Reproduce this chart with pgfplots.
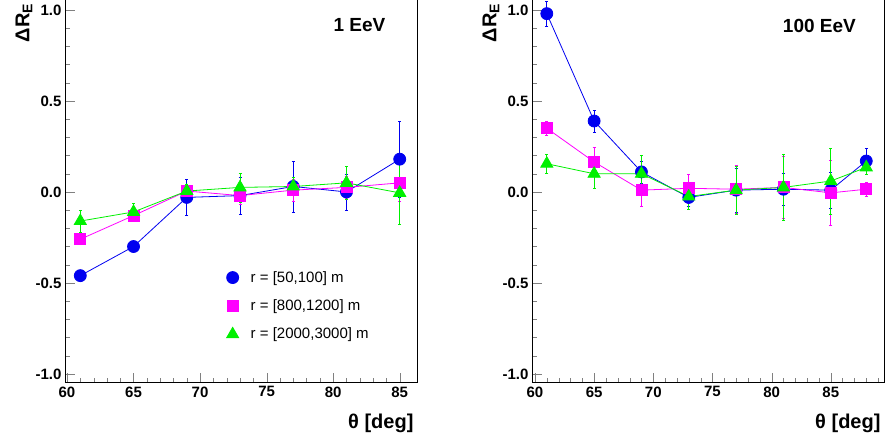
\documentclass[border=0pt]{standalone}
\usepackage{pgfplots}
\pgfplotsset{compat=1.18}
\usepackage{fontspec}
\setmainfont{Liberation Sans}
\definecolor{rblue}{RGB}{0,0,240}
\definecolor{rmag}{RGB}{255,0,255}
\definecolor{rgreen}{RGB}{0,240,0}
\pgfplotsset{
 rootax/.style={scale only axis, height=383pt, ymin=-1.05, ymax=1.055,
  anchor=south west, axis line style={line width=1pt}, tick align=inside,
  xtick pos=bottom, ytick pos=left, major tick length=10pt, minor tick length=5pt,
  xtick distance=5,
  ytick={-1,-0.5,0,0.5,1}, minor ytick={-0.9,-0.8,...,0.95}, minor x tick num=4,
  yticklabel style={/pgf/number format/.cd,fixed,fixed zerofill,precision=1},
  tick label style={font=\fontsize{15}{15}\selectfont\bfseries},
  /pgf/number format/assume math mode=true,
 },
 sb/.style={rblue, line width=0.8pt, mark=*, mark size=6pt},
 sm/.style={rmag, line width=0.8pt, mark=square*, mark size=5.5pt},
 sg/.style={rgreen, line width=0.8pt, mark=triangle*, mark size=7pt},
 eb/.style={error bars/.cd, y dir=both, y explicit, error bar style={line width=0.8pt,draw=#1}, error mark options={rotate=90,mark size=1.5pt,draw=#1}},
}
\begin{document}
\begin{tikzpicture}
\useasboundingbox (0,0) rectangle (886pt,435pt);
\begin{axis}[rootax, at={(65pt,52pt)}, width=352pt, xmin=59.85, xmax=86.3,
 legend style={draw=none, fill=none, at={(0.45,0.1)}, anchor=south west, font=\fontsize{15}{15}\selectfont, row sep=12pt, legend cell align=left, /tikz/every odd column/.append style={column sep=10pt}}]
\addlegendimage{only marks, sb}\addlegendentry{r = [50,100] m}
\addlegendimage{only marks, sm}\addlegendentry{r = [800,1200] m}
\addlegendimage{only marks, sg}\addlegendentry{r = [2000,3000] m}
\addplot[sb, eb=rblue] coordinates {(61,-0.46)+-(0,0.01) (65,-0.30)+-(0,0.02) (69,-0.03)+-(0,0.10) (73,-0.02)+-(0,0.10) (77,0.03)+-(0,0.14) (81,0.0)+-(0,0.10) (85,0.18)+-(0,0.21)};
\addplot[sm, eb=rmag] coordinates {(61,-0.26)+-(0,0.02) (65,-0.13)+-(0,0.02) (69,0.005)+-(0,0.04) (73,-0.02)+-(0,0.05) (77,0.01)+-(0,0.06) (81,0.025)+-(0,0.06) (85,0.05)+-(0,0.10)};
\addplot[sg, eb=rgreen] coordinates {(61,-0.16)+-(0,0.06) (65,-0.11)+-(0,0.05) (69,0.005)+-(0,0.04) (73,0.025)+-(0,0.08) (77,0.03)+-(0,0.05) (81,0.05)+-(0,0.09) (85,-0.005)+-(0,0.17)};
\node[anchor=north east, font=\fontsize{19}{19}\selectfont\bfseries] at (rel axis cs:0.92,0.96) {1 EeV};
\end{axis}
\begin{axis}[rootax, at={(532pt,52pt)}, width=352pt, xmin=59.75, xmax=89.5]
\addplot[sb, eb=rblue] coordinates {(61,0.98)+-(0,0.07) (65,0.39)+-(0,0.06) (69,0.11)+-(0,0.06) (73,-0.03)+-(0,0.05) (77,0.01)+-(0,0.12) (81,0.015)+-(0,0.09) (85,0.01)+-(0,0.10) (88,0.17)+-(0,0.07)};
\addplot[sm, eb=rmag] coordinates {(61,0.35)+-(0,0.04) (65,0.165)+-(0,0.08) (69,0.01)+-(0,0.09) (73,0.02)+-(0,0.08) (77,0.015)+-(0,0.13) (81,0.025)+-(0,0.17) (85,-0.005)+-(0,0.18) (88,0.015)+-(0,0.04)};
\addplot[sg, eb=rgreen] coordinates {(61,0.155)+-(0,0.05) (65,0.10)+-(0,0.08) (69,0.10)+-(0,0.10) (73,-0.025)+-(0,0.07) (77,0.01)+-(0,0.13) (81,0.025)+-(0,0.18) (85,0.06)+-(0,0.18) (88,0.135)+-(0,0.04)};
\node[anchor=north east, font=\fontsize{19}{19}\selectfont\bfseries] at (rel axis cs:0.93,0.96) {100 EeV};
\end{axis}
\node[rotate=90, anchor=east, font=\fontsize{20}{20}\selectfont\bfseries] at (24pt,435pt) {ΔR\textsubscript{E}};
\node[rotate=90, anchor=east, font=\fontsize{20}{20}\selectfont\bfseries] at (491pt,435pt) {ΔR\textsubscript{E}};
\node[anchor=base east, font=\fontsize{20}{20}\selectfont\bfseries] at (417pt,6pt) {θ [deg]};
\node[anchor=base east, font=\fontsize{20}{20}\selectfont\bfseries] at (884pt,6pt) {θ [deg]};
\end{tikzpicture}
\end{document}
